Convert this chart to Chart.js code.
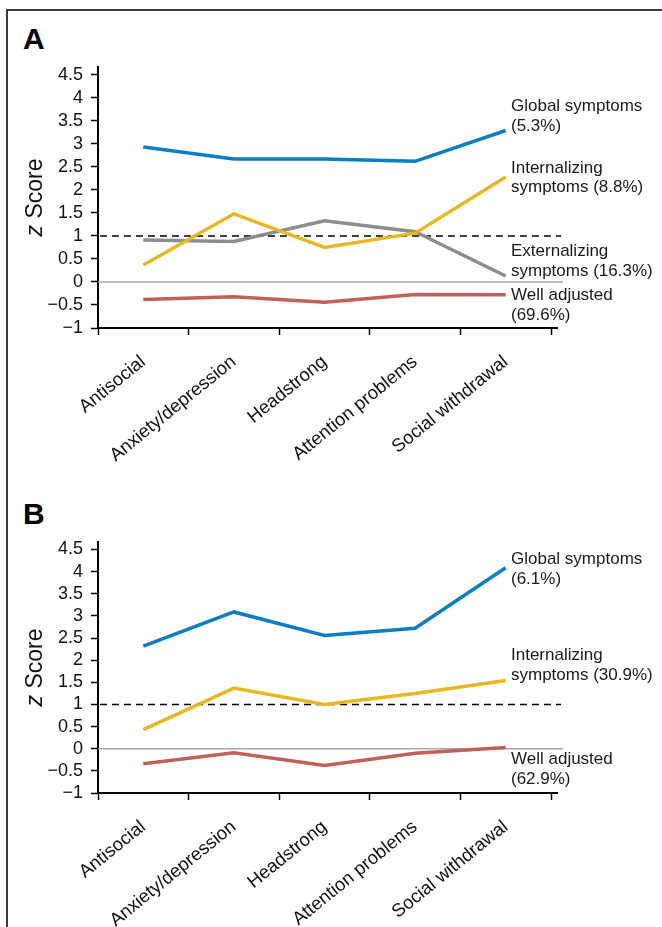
<!DOCTYPE html>
<html>
<head>
<meta charset="utf-8">
<script src="https://cdn.jsdelivr.net/npm/chart.js@4"></script>
<style>
body{margin:0;background:#fff;width:662px;height:927px;overflow:hidden;position:relative;font-family:"Liberation Sans",Arial,sans-serif}
#frame{position:absolute;left:6px;top:9px;width:700px;height:1000px;border-left:2px solid #3a3a3a;border-top:2px solid #3a3a3a}
.tag{position:absolute;left:23px;font:bold 30px/30px "Liberation Sans",Arial,sans-serif;color:#000}
canvas{position:absolute;left:0}
</style>
</head>
<body>
<div id="frame"></div>
<div class="tag" style="top:24px">A</div>
<div class="tag" style="top:499px">B</div>
<canvas id="chartA" width="662" height="500" style="top:0"></canvas>
<canvas id="chartB" width="662" height="457" style="top:470px"></canvas>
<script>
var scaleNames = ["Antisocial", "Anxiety/depression", "Headstrong", "Attention problems", "Social withdrawal"];

// panel A
var globalA = [2.93, 2.67, 2.67, 2.62, 3.29];
var internalA = [0.37, 1.48, 0.75, 1.06, 2.28];
var externalA = [0.91, 0.88, 1.33, 1.09, 0.13];
var adjustedA = [-0.38, -0.32, -0.44, -0.27, -0.28];

// panel B
var globalB = [2.32, 3.09, 2.56, 2.72, 4.09];
var internalB = [0.43, 1.37, 1.00, 1.25, 1.54];
var adjustedB = [-0.34, -0.09, -0.38, -0.10, 0.03];

// end-of-line labels
var notesA = [["Global symptoms", "(5.3%)"], ["Internalizing", "symptoms (8.8%)"], ["Externalizing", "symptoms (16.3%)"], ["Well adjusted", "(69.6%)"]];
var notesB = [["Global symptoms", "(6.1%)"], ["Internalizing", "symptoms (30.9%)"], ["Well adjusted", "(62.9%)"]];
// where each label starts, in z units
var noteYA = [3.81, 2.47, 0.66, -0.30];
var noteYB = [4.27, 2.11, -0.25];

var BLUE = "#0b7dc2", YELLOW = "#e8b824", GREY = "#8d8d8f", RED = "#c0605b";
var FONT = "'Liberation Sans', Arial, sans-serif";

var extras = {
  id: "extras",
  beforeDatasetsDraw: function(chart) {
    var ctx = chart.ctx, a = chart.chartArea, y = chart.scales.y;
    ctx.save();
    ctx.lineWidth = 1.5;
    ctx.strokeStyle = "#a8a8a8";
    var y0 = y.getPixelForValue(0);
    ctx.beginPath(); ctx.moveTo(a.left, y0); ctx.lineTo(a.right + 12, y0); ctx.stroke();
    ctx.strokeStyle = "#000";
    ctx.setLineDash([7, 5]);
    var y1 = y.getPixelForValue(1);
    ctx.beginPath(); ctx.moveTo(a.left + 2, y1); ctx.lineTo(a.right + 10, y1); ctx.stroke();
    ctx.restore();
  },
  afterDraw: function(chart, args, opts) {
    var ctx = chart.ctx, a = chart.chartArea, y = chart.scales.y;
    ctx.save();
    // x axis runs a little past the last tick
    ctx.strokeStyle = "#000";
    ctx.lineWidth = 2;
    var yb = y.getPixelForValue(-1);
    ctx.beginPath(); ctx.moveTo(a.right, yb); ctx.lineTo(a.right + 7, yb); ctx.stroke();

    // y title with italic z
    ctx.translate(36, (a.top + a.bottom) / 2);
    ctx.rotate(-Math.PI / 2);
    ctx.fillStyle = "#111";
    ctx.textBaseline = "middle";
    ctx.font = "italic 23px " + FONT;
    var wz = ctx.measureText("z ").width;
    ctx.font = "23px " + FONT;
    var ws = ctx.measureText("Score").width;
    var x0 = -(wz + ws) / 2;
    ctx.font = "italic 23px " + FONT;
    ctx.fillText("z", x0, 0);
    ctx.font = "23px " + FONT;
    ctx.fillText("Score", x0 + wz, 0);
    ctx.restore();

    // labels at line ends
    ctx.save();
    ctx.fillStyle = "#1a1a1a";
    ctx.font = "17px " + FONT;
    ctx.textBaseline = "middle";
    opts.notes.forEach(function(lines, i) {
      var py = y.getPixelForValue(opts.noteY[i]);
      lines.forEach(function(t, j) {
        ctx.fillText(t, a.right - 40, py + j * 19.5);
      });
    });
    ctx.restore();
  }
};

function line(data, color) {
  return { data: data, borderColor: color, borderWidth: 3.5, pointRadius: 0, tension: 0, fill: false };
}

function makeChart(id, sets, notes, noteY, padTop, xHeight) {
  return new Chart(document.getElementById(id), {
    type: "line",
    data: { labels: scaleNames, datasets: sets },
    plugins: [extras],
    options: {
      responsive: false,
      animation: false,
      layout: { padding: { left: 0, right: 111, top: padTop, bottom: 0 } },
      plugins: {
        legend: { display: false },
        tooltip: { enabled: false },
        extras: { notes: notes, noteY: noteY }
      },
      scales: {
        x: {
          offset: true,
          grid: { offset: true, drawOnChartArea: false, tickLength: 7, tickColor: "#000", tickWidth: 1.5 },
          border: { color: "#000", width: 2 },
          ticks: { autoSkip: false, minRotation: 39, maxRotation: 39, padding: 16, color: "#111", font: { family: FONT, size: 18.5 } },
          afterFit: function(s) { s.height = xHeight; }
        },
        y: {
          min: -1,
          max: 4.67,
          bounds: "data",
          grid: { drawOnChartArea: false, tickLength: 7, tickColor: "#000", tickWidth: 1.5 },
          border: { color: "#000", width: 2 },
          ticks: {
            stepSize: 0.5,
            autoSkip: false,
            includeBounds: false,
            padding: 8,
            color: "#111",
            font: { family: FONT, size: 18 },
            callback: function(v) { return v === 0 ? "0" : String(v).replace("-", "\u2212"); }
          },
          afterBuildTicks: function(s) {
            s.ticks = s.ticks.filter(function(t) { return Math.abs(t.value * 2 - Math.round(t.value * 2)) < 1e-6; });
          },
          afterFit: function(s) { s.width = 98; }
        }
      }
    }
  });
}

makeChart("chartA",
  [line(globalA, BLUE), line(internalA, YELLOW), line(externalA, GREY), line(adjustedA, RED)],
  notesA, noteYA, 67, 172);

makeChart("chartB",
  [line(globalB, BLUE), line(internalB, YELLOW), line(adjustedB, RED)],
  notesB, noteYB, 72, 134);
</script>
</body>
</html>
